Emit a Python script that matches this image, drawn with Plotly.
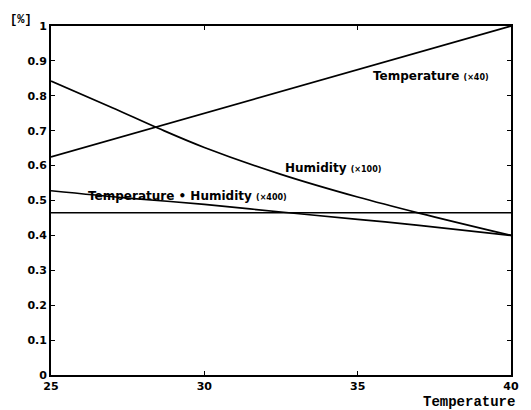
import plotly.graph_objects as go

# Data
temp_x = [25, 40]
temp_norm = [0.625, 1.0]  # Temperature (x40)

hum_x = [25, 27, 28.5, 30, 32.5, 35, 37, 40]
hum_norm = [0.842, 0.766, 0.707, 0.652, 0.575, 0.51, 0.464, 0.40]  # Humidity (x100)

prod_x = [25, 27.5, 30, 32.5, 35, 37, 40]
prod_norm = [0.528, 0.507, 0.489, 0.467, 0.446, 0.429, 0.40]  # Temperature*Humidity (x400)

ref_x = [25, 40]
ref_level = [0.465, 0.465]

x_ticks = [25, 30, 35, 40]
y_ticks = [0, 0.1, 0.2, 0.3, 0.4, 0.5, 0.6, 0.7, 0.8, 0.9, 1]
y_ticktext = ["0", "0.1", "0.2", "0.3", "0.4", "0.5", "0.6", "0.7", "0.8", "0.9", "1"]

fig = go.Figure()
fig.add_trace(go.Scatter(x=temp_x, y=temp_norm, mode="lines", line=dict(color="black", width=1.7)))
fig.add_trace(go.Scatter(x=hum_x, y=hum_norm, mode="lines",
                         line=dict(color="black", width=1.7, shape="spline", smoothing=1.0)))
fig.add_trace(go.Scatter(x=prod_x, y=prod_norm, mode="lines",
                         line=dict(color="black", width=1.7, shape="spline", smoothing=1.0)))
fig.add_trace(go.Scatter(x=ref_x, y=ref_level, mode="lines", line=dict(color="black", width=1.4)))

tickfont = dict(family="DejaVu Sans", size=11, color="black", weight="bold")
axis_common = dict(ticks="inside", ticklen=4, tickwidth=1.2, tickcolor="black",
                   showline=True, linecolor="black", linewidth=1.8, mirror="ticks",
                   showgrid=False, zeroline=False, tickfont=tickfont)
fig.update_xaxes(range=[25, 40], tickvals=x_ticks, ticktext=[str(v) for v in x_ticks], **axis_common)
fig.update_yaxes(range=[0, 1], tickvals=y_ticks, ticktext=y_ticktext, **axis_common)

labfont = dict(family="DejaVu Sans", size=12, color="black", weight="bold")
small = '<span style="font-size:8px">(×{})</span>'
fig.add_annotation(x=35.45, y=0.858, xref="x", yref="y", text="Temperature " + small.format(40),
                   showarrow=False, font=labfont, xanchor="left", yanchor="middle")
fig.add_annotation(x=32.58, y=0.592, xref="x", yref="y", text="Humidity " + small.format(100),
                   showarrow=False, font=labfont, xanchor="left", yanchor="middle")
fig.add_annotation(x=26.14, y=0.513, xref="x", yref="y", text="Temperature • Humidity " + small.format(400),
                   showarrow=False, font=labfont, xanchor="left", yanchor="middle")

fig.add_annotation(x=1.013, y=-0.05, xref="paper", yref="paper", text="Temperature",
                   showarrow=False, xanchor="right", yanchor="top",
                   font=dict(family="Liberation Mono", size=14, color="black", weight="bold"))
fig.add_annotation(x=-0.093, y=1.017, xref="paper", yref="paper", text="[%]",
                   showarrow=False, xanchor="left", yanchor="middle",
                   font=dict(family="Liberation Mono", size=12, color="black", weight="bold"))

# page body adds an 8px offset; figure sized so the plot area lands where the reference has it
fig.update_layout(width=523, height=402, showlegend=False,
                  margin=dict(l=43, r=19, t=14, b=35),
                  plot_bgcolor="white", paper_bgcolor="white")
fig.write_html("out.html")
